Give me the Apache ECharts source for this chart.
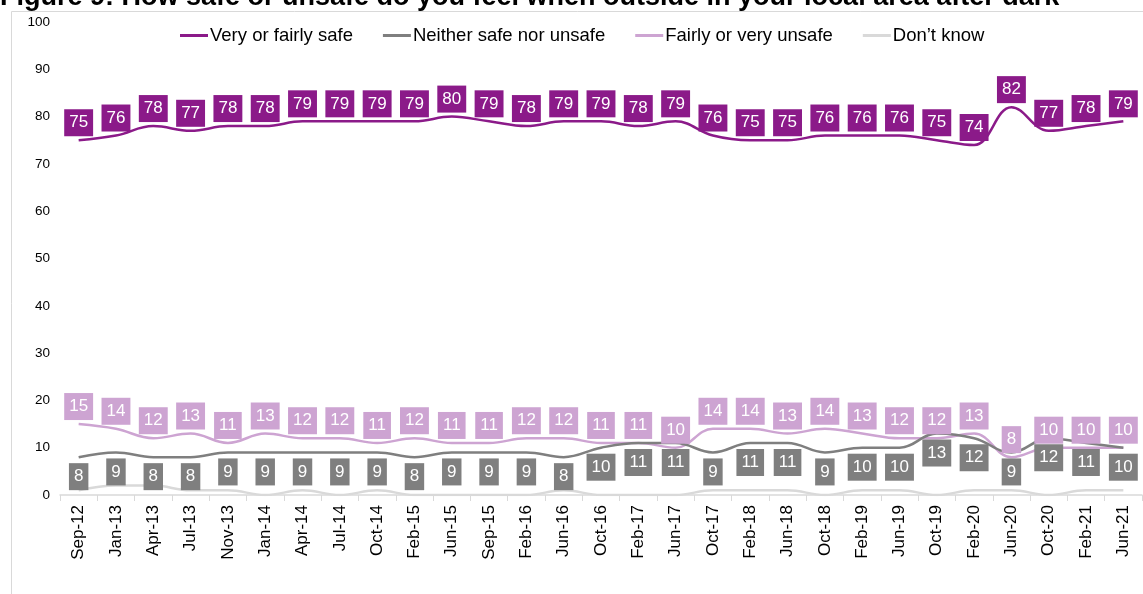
<!DOCTYPE html>
<html><head><meta charset="utf-8">
<script src="https://cdn.jsdelivr.net/npm/echarts@6/dist/echarts.min.js"></script>
<style>html,body{margin:0;padding:0;background:#fff}#c{width:1143px;height:594px}</style>
</head><body><div id="c"></div>
<script>
const categories = ["Sep-12","Jan-13","Apr-13","Jul-13","Nov-13","Jan-14","Apr-14","Jul-14","Oct-14","Feb-15","Jun-15","Sep-15","Feb-16","Jun-16","Oct-16","Feb-17","Jun-17","Oct-17","Feb-18","Jun-18","Oct-18","Feb-19","Jun-19","Oct-19","Feb-20","Jun-20","Oct-20","Feb-21","Jun-21"];
const safe = [75,76,78,77,78,78,79,79,79,79,80,79,78,79,79,78,79,76,75,75,76,76,76,75,74,82,77,78,79];
const neither = [8,9,8,8,9,9,9,9,9,8,9,9,9,8,10,11,11,9,11,11,9,10,10,13,12,9,12,11,10];
const unsafe = [15,14,12,13,11,13,12,12,11,12,11,11,12,12,11,11,10,14,14,13,14,13,12,12,13,8,10,10,10];
const dontKnow = [1,2,2,1,1,0,1,0,1,0,0,0,0,1,0,0,0,1,1,1,0,1,1,0,1,1,0,1,1];
const seriesNames = ["Very or fairly safe","Neither safe nor unsafe","Fairly or very unsafe","Don\u2019t know"];
const colors = ["#8B1A89","#7F7F7F","#CDA4D2","#D9D9D9"];
const titleText = "Figure 9: How safe or unsafe do you feel when outside in your local area after dark";

const chart = echarts.init(document.getElementById('c'), null, {renderer:'canvas'});
function mk(name, data, color, labelPos) {
  const s = {
    name, type:'line', data, smooth:0.4, symbol:'circle', symbolSize:0.01, showSymbol:true,
    lineStyle:{color, width:2.5}, itemStyle:{color:'transparent'},
    emphasis:{disabled:true}, z: 2
  };
  if (labelPos) {
    s.label = {show:true, position:labelPos, distance:labelPos === 'top' ? 4 : 6, color:'#fff', backgroundColor:color,
      fontFamily:'Liberation Sans, Arial', fontSize:17, lineHeight:17, padding:[5,5,5,5]};
    s.labelLayout = {hideOverlap:false};
  }
  return s;
}
chart.setOption({
  animation:false,
  textStyle:{fontFamily:'Liberation Sans, Arial'},
  graphic:[
    {type:'rect', shape:{x:11.5,y:11.5,width:1200,height:700}, style:{fill:'none', stroke:'#d9d9d9', lineWidth:1}, z:-1},
    {type:'text', x:0, y:11, style:{text:titleText, font:'bold 27px "Liberation Sans", Arial', fill:'#000', verticalAlign:'bottom'}}
  ],
  legend:{
    top:21, left:175, itemGap:30, itemWidth:28, itemHeight:3, icon:'rect',
    textStyle:{fontSize:18.5, color:'#000', padding:[0,0,0,-3]},
    data: seriesNames.map((n,i)=>({name:n, itemStyle:{color:colors[i], opacity:1}}))
  },
  grid:{left:60, right:1, top:22, bottom:99, containLabel:false},
  xAxis:{type:'category', data:categories, boundaryGap:true,
    axisLine:{lineStyle:{color:'#d9d9d9', width:1.5}},
    axisTick:{show:true, length:6, lineStyle:{color:'#d9d9d9'}},
    axisLabel:{rotate:90, fontSize:17, color:'#000', margin:10, interval:0}},
  yAxis:{type:'value', min:0, max:100, interval:10,
    axisLine:{show:false}, axisTick:{show:false}, splitLine:{show:false},
    axisLabel:{fontSize:13.5, color:'#000', margin:10}},
  series:[
    mk(seriesNames[3], dontKnow, colors[3], null),
    mk(seriesNames[2], unsafe, colors[2], 'top'),
    mk(seriesNames[1], neither, colors[1], 'bottom'),
    mk(seriesNames[0], safe, colors[0], 'top')
  ]
});
</script></body></html>
